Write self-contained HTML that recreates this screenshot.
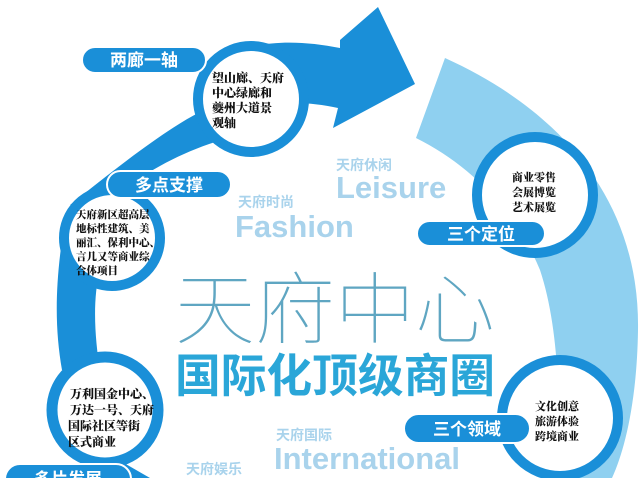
<!DOCTYPE html>
<html><head><meta charset="utf-8"><style>
html,body{margin:0;padding:0;background:#fff;}
svg{display:block;}
.cjk{font-family:"Liberation Sans","Noto Sans CJK SC",sans-serif;}
.ser{font-family:"Liberation Serif","Noto Serif CJK SC",serif;font-weight:900;}
</style></head><body>
<svg width="644" height="478" viewBox="0 0 644 478" xmlns="http://www.w3.org/2000/svg">
<rect width="644" height="478" fill="#fff"/>
<path d="M445,58 C560,110 640,200 638,330 C637,400 625,450 612,478 L553,478 C562,420 560,330 540,270 C515,210 470,165 416,138 Z" fill="#8fd0f0"/>
<path d="M200,70 C240,40 290,38 340,48 L340,40 L378,7 L415,84 L333,128 L338,108 C300,100 265,100 235,120 Z" fill="#1a8fd8"/>
<path d="M200,112 C165,130 120,165 70,205 L110,200 C140,175 180,152 222,140 Z" fill="#1a8fd8"/>
<path d="M62,240 C55,290 55,330 62,370 L100,370 C95,340 92,300 100,270 Z" fill="#1a8fd8"/>
<path d="M110,455 L150,478 L125,478 L95,460 Z" fill="#1a8fd8"/>
<circle cx="251" cy="99" r="53" fill="#fff" stroke="#1a8fd8" stroke-width="10"/>
<circle cx="112" cy="238" r="48" fill="#fff" stroke="#1a8fd8" stroke-width="10"/>
<circle cx="105" cy="410" r="53" fill="#fff" stroke="#1a8fd8" stroke-width="11"/>
<circle cx="535" cy="195" r="58" fill="#fff" stroke="#1a8fd8" stroke-width="10"/>
<circle cx="560" cy="418" r="58" fill="#fff" stroke="#1a8fd8" stroke-width="10"/>
<g stroke="#fff" stroke-width="2" fill="#1a8fd8">
<rect x="82" y="47" width="124" height="26" rx="13"/>
<rect x="107" y="171" width="124" height="27" rx="13.5"/>
<rect x="5" y="464" width="126" height="30" rx="15"/>
<rect x="417" y="221" width="128" height="25" rx="12.5"/>
<rect x="404" y="414" width="126" height="29" rx="14.5"/>
</g>
<g class="cjk" fill="#fff" font-weight="bold" font-size="17" text-anchor="middle">
<text x="144" y="66">两廊一轴</text>
<text x="169" y="191">多点支撑</text>
<text x="68" y="485">多片发展</text>
<text x="481" y="240">三个定位</text>
<text x="467" y="435">三个领域</text>
</g>
<g class="ser" fill="#111" font-size="12">
<text x="212" y="82">望山廊、天府</text>
<text x="212" y="97">中心绿廊和</text>
<text x="212" y="112">夔州大道景</text>
<text x="212" y="127">观轴</text>
<text x="76" y="218" font-size="10.5">天府新区超高层</text>
<text x="76" y="232" font-size="10.5">地标性建筑、美</text>
<text x="76" y="246" font-size="10.5">丽汇、保利中心、</text>
<text x="76" y="260" font-size="10.5">言几又等商业综</text>
<text x="76" y="274" font-size="10.5">合体项目</text>
<text x="70" y="398">万利国金中心、</text>
<text x="70" y="414">万达一号、天府</text>
<text x="68" y="430">国际社区等街</text>
<text x="68" y="446">区式商业</text>
<text x="512" y="181" font-size="11">商业零售</text>
<text x="512" y="196" font-size="11">会展博览</text>
<text x="512" y="211" font-size="11">艺术展览</text>
<text x="535" y="410" font-size="11">文化创意</text>
<text x="535" y="425" font-size="11">旅游体验</text>
<text x="535" y="440" font-size="11">跨境商业</text>
</g>
<g class="cjk" font-weight="bold" fill="#a9d3ec">
<text x="336" y="170" font-size="14">天府休闲</text>
<text x="336" y="198" font-size="31">Leisure</text>
<text x="238" y="207" font-size="14">天府时尚</text>
<text x="235" y="237" font-size="31">Fashion</text>
<text x="276" y="440" font-size="14">天府国际</text>
<text x="274" y="469" font-size="31">International</text>
<text x="186" y="474" font-size="14">天府娱乐</text>
</g>
<text x="175" y="337" class="cjk" font-size="78" font-weight="100" fill="#5fa6c2" textLength="320" lengthAdjust="spacingAndGlyphs">天府中心</text>
<text x="175" y="392" class="cjk" font-size="46" font-weight="bold" fill="#2aa6d8" textLength="320" lengthAdjust="spacingAndGlyphs">国际化顶级商圈</text>
</svg>
</body></html>
